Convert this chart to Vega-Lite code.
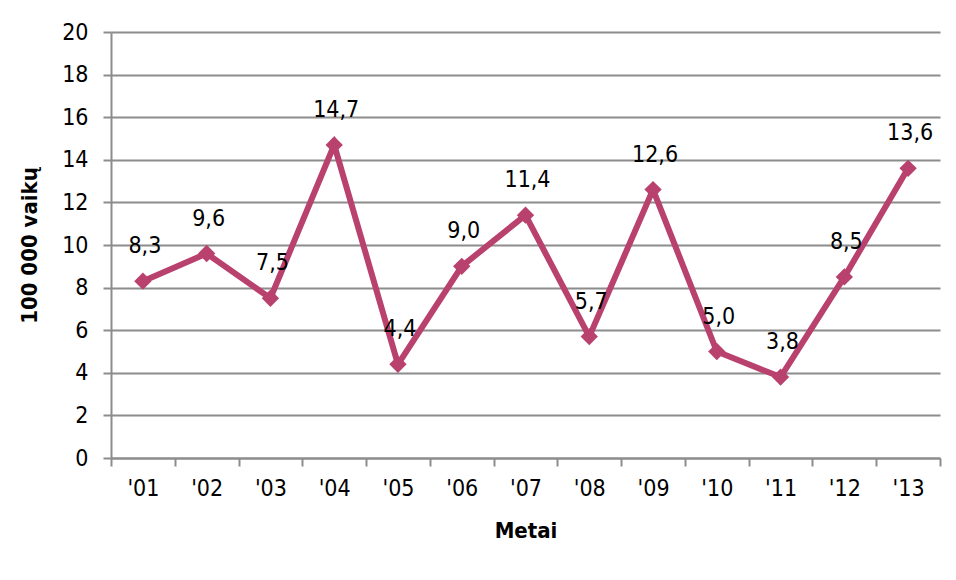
{
  "$schema": "https://vega.github.io/schema/vega-lite/v6.json",
  "width": 829,
  "height": 426,
  "autosize": {"type": "none"},
  "padding": {"left": 111, "top": 32, "right": 16, "bottom": 122},
  "background": "white",
  "data": {
    "values": [
      {"metai": "'01", "rodiklis": 8.3},
      {"metai": "'02", "rodiklis": 9.6},
      {"metai": "'03", "rodiklis": 7.5},
      {"metai": "'04", "rodiklis": 14.7},
      {"metai": "'05", "rodiklis": 4.4},
      {"metai": "'06", "rodiklis": 9.0},
      {"metai": "'07", "rodiklis": 11.4},
      {"metai": "'08", "rodiklis": 5.7},
      {"metai": "'09", "rodiklis": 12.6},
      {"metai": "'10", "rodiklis": 5.0},
      {"metai": "'11", "rodiklis": 3.8},
      {"metai": "'12", "rodiklis": 8.5},
      {"metai": "'13", "rodiklis": 13.6}
    ]
  },
  "encoding": {
    "x": {
      "field": "metai",
      "type": "ordinal",
      "sort": null,
      "title": "Metai",
      "scale": {"paddingInner": 0, "paddingOuter": 0},
      "axis": {
        "labelAngle": 0,
        "labelFont": "DejaVu Sans Condensed",
        "labelFontSize": 23,
        "labelColor": "#000000",
        "labelPadding": 11,
        "tickBand": "extent",
        "tickSize": 8,
        "tickColor": "#8c8c8c",
        "tickWidth": 2,
        "domainColor": "#8c8c8c",
        "domainWidth": 2,
        "titleFont": "DejaVu Sans Condensed",
        "titleFontSize": 22,
        "titleFontWeight": "bold",
        "titleColor": "#000000",
        "titlePadding": 20
      }
    },
    "y": {
      "field": "rodiklis",
      "type": "quantitative",
      "title": "100 000 vaikų",
      "scale": {"domain": [0, 20], "nice": false},
      "axis": {
        "values": [0, 2, 4, 6, 8, 10, 12, 14, 16, 18, 20],
        "format": "d",
        "labelFont": "DejaVu Sans Condensed",
        "labelFontSize": 23,
        "labelColor": "#000000",
        "labelPadding": 15,
        "tickSize": 8,
        "tickColor": "#8c8c8c",
        "tickWidth": 2,
        "domainColor": "#8c8c8c",
        "domainWidth": 2,
        "grid": true,
        "gridColor": "#8c8c8c",
        "gridWidth": 2,
        "titleFont": "DejaVu Sans Condensed",
        "titleFontSize": 22,
        "titleFontWeight": "bold",
        "titleColor": "#000000",
        "titlePadding": 20
      }
    }
  },
  "layer": [
    {
      "mark": {"type": "line", "color": "#b9416d", "strokeWidth": 6, "strokeJoin": "miter"}
    },
    {
      "mark": {"type": "point", "shape": "diamond", "filled": true, "color": "#b9416d", "opacity": 1, "size": 300}
    },
    {
      "mark": {
        "type": "text",
        "font": "DejaVu Sans Condensed",
        "fontSize": 23,
        "color": "#000000",
        "baseline": "middle",
        "align": "center",
        "dx": 2,
        "dy": -35
      },
      "encoding": {
        "text": {"field": "rodiklis", "type": "quantitative", "format": ".1f"}
      }
    }
  ],
  "config": {
    "view": {"stroke": null},
    "locale": {
      "number": {
        "decimal": ",",
        "thousands": " ",
        "grouping": [3],
        "currency": ["", " €"]
      }
    }
  }
}
